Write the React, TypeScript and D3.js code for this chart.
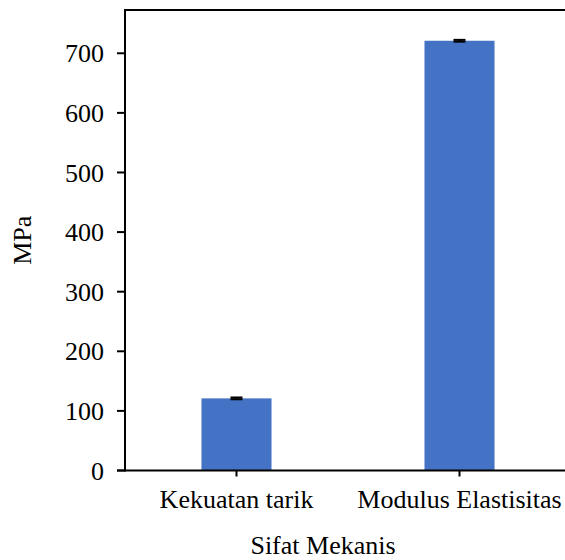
import React from "react";
import * as d3 from "d3";

const categories = ["Kekuatan tarik", "Modulus Elastisitas"];
const values = [121, 721];
const errors = [1.5, 1.5];
const yTicks = [0, 100, 200, 300, 400, 500, 600, 700];
const xTitle = "Sifat Mekanis";
const yTitle = "MPa";

const W = 565;
const H = 560;
const left = 125;
const top = 10;
const bottom = 470.5;
const right = 571;
const FONT = "'Liberation Serif', 'Times New Roman', serif";

export default function App() {
  const y = d3.scaleLinear().domain([0, 772.6]).range([bottom, top]);
  const x = d3
    .scaleBand<string>()
    .domain(categories)
    .range([left, right])
    .paddingInner(0.686)
    .paddingOuter(0.343);
  const bw = x.bandwidth();
  return (
    <svg
      width={W}
      height={H}
      style={{ position: "absolute", left: 0, top: 0, background: "#fff" }}
      fontFamily={FONT}
    >
      {categories.map((c, i) => {
        const x0 = x(c)!;
        const cx = x0 + bw / 2;
        return (
          <g key={c}>
            <rect x={x0} y={y(values[i])} width={bw} height={bottom - y(values[i])} fill="#4472C4" />
            <line x1={cx} x2={cx} y1={y(values[i] + errors[i])} y2={y(values[i] - errors[i])} stroke="#000" strokeWidth={2} />
            <line x1={cx - 6} x2={cx + 6} y1={y(values[i] + errors[i])} y2={y(values[i] + errors[i])} stroke="#000" strokeWidth={2} />
            <line x1={cx - 6} x2={cx + 6} y1={y(values[i] - errors[i])} y2={y(values[i] - errors[i])} stroke="#000" strokeWidth={2} />
          </g>
        );
      })}
      {/* frame */}
      <line x1={left} x2={W} y1={top} y2={top} stroke="#000" strokeWidth={2} />
      <line x1={left} x2={left} y1={top - 1} y2={bottom + 1} stroke="#000" strokeWidth={2} />
      <line x1={left - 8} x2={W} y1={bottom} y2={bottom} stroke="#000" strokeWidth={2} />
      {yTicks.map((t) => (
        <g key={t}>
          <line x1={left - 8} x2={left} y1={y(t)} y2={y(t)} stroke="#000" strokeWidth={2} />
          <text x={104} y={y(t)} dy="0.35em" textAnchor="end" fontSize={26} fill="#000">
            {t}
          </text>
        </g>
      ))}
      {categories.map((c) => {
        const cx = x(c)! + bw / 2;
        return (
          <g key={"t" + c}>
            <line x1={cx} x2={cx} y1={bottom} y2={bottom + 6} stroke="#000" strokeWidth={2} />
            <text x={cx} y={508} textAnchor="middle" fontSize={26} fill="#000">
              {c}
            </text>
          </g>
        );
      })}
      <text x={(left + right) / 2 - 25} y={554} textAnchor="middle" fontSize={26} fill="#000">
        {xTitle}
      </text>
      <text
        transform={`translate(31, ${(top + bottom) / 2}) rotate(-90)`}
        textAnchor="middle"
        fontSize={26}
        fill="#000"
      >
        {yTitle}
      </text>
    </svg>
  );
}
